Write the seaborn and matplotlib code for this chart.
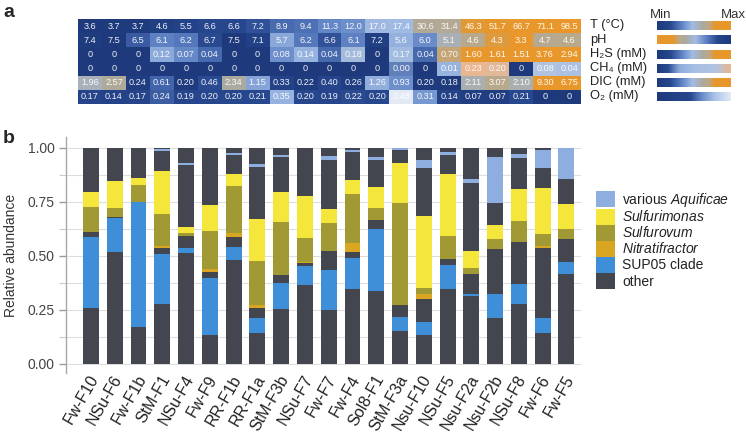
import numpy as np
import pandas as pd
import matplotlib
matplotlib.use("Agg")
import matplotlib.pyplot as plt
import matplotlib.transforms as mtransforms
import seaborn as sns
from matplotlib.colors import LinearSegmentedColormap
from matplotlib.patches import Patch
from matplotlib.ticker import FixedLocator

sns.set_style("white")
plt.rcParams["font.family"] = ["Liberation Sans", "DejaVu Sans"]
plt.rcParams["mathtext.fontset"] = "custom"
plt.rcParams["mathtext.rm"] = "Liberation Sans"
plt.rcParams["mathtext.it"] = "Liberation Sans:italic"

# ---------------- data ----------------
samples = ["Fw-F10", "NSu-F6", "Fw-F1b", "StM-F1", "NSu-F4", "Fw-F9", "RR-F1b", "RR-F1a",
           "StM-F3b", "NSu-F7", "Fw-F7", "Fw-F4", "Sol8-F1", "StM-F3a", "Nsu-F10", "NSu-F5",
           "Nsu-F2a", "Nsu-F2b", "NSu-F8", "Fw-F6", "Fw-F5"]

temp = [3.6, 3.7, 3.7, 4.6, 5.5, 6.6, 6.6, 7.2, 8.9, 9.4, 11.3, 12.0, 17.0, 17.4, 30.6, 31.4, 46.3, 51.7, 66.7, 71.1, 98.5]
ph = [7.4, 7.5, 6.5, 6.1, 6.2, 6.7, 7.5, 7.1, 5.7, 6.2, 6.6, 6.1, 7.2, 5.6, 6.0, 5.1, 4.6, 4.3, 3.3, 4.7, 4.6]
h2s = [0, 0, 0, 0.12, 0.07, 0.04, 0, 0, 0.08, 0.14, 0.04, 0.18, 0, 0.17, 0.04, 0.70, 1.60, 1.61, 1.51, 3.76, 2.94]
ch4 = [0, 0, 0, 0, 0, 0, 0, 0, 0, 0, 0, 0, 0, 0.004, 0, 0.01, 0.23, 0.20, 0, 0.08, 0.04]
dic = [1.96, 2.57, 0.24, 0.61, 0.20, 0.46, 2.34, 1.15, 0.33, 0.22, 0.40, 0.26, 1.26, 0.93, 0.20, 0.18, 2.11, 3.07, 2.10, 9.30, 6.75]
o2 = [0.17, 0.14, 0.17, 0.24, 0.19, 0.20, 0.20, 0.21, 0.35, 0.20, 0.19, 0.22, 0.20, 0.48, 0.31, 0.14, 0.07, 0.07, 0.21, 0, 0]
row_labels = ["T (°C)", "pH", "H\u2082S (mM)", "CH\u2084 (mM)", "DIC (mM)", "O\u2082 (mM)"]

# relative abundance segments, bottom -> top
other_low = [.255, .518, .168, .275, .512, .131, .478, .142, .253, .363, .250, .345, .335, .153, .131, .343, .312, .209, .277, .142, .416]
sup05 = [.331, .154, .582, .230, .021, .266, .061, .067, .119, .088, .184, .145, .286, .063, .062, .113, .011, .111, .092, .067, .054]
other_mid = [.025, .008, 0, .028, .059, .028, .047, .049, .038, .016, .087, .028, .042, .054, .107, .026, .093, .209, .195, .324, .105]
nitratifractor = [0, 0, 0, .010, 0, .012, .020, .012, 0, .005, 0, .038, 0, 0, .023, 0, 0, 0, 0, .011, 0]
sulfurovum = [.115, .039, .077, .148, .014, .177, .216, .204, .247, .108, .128, .228, .059, .475, .028, .108, .028, .046, .096, .057, .049]
sulfurimonas = [.068, .126, .031, .198, .026, .120, .054, .194, .139, .196, .068, .065, .093, .185, .332, .286, .077, .066, .147, .210, .116]
other_high = [.206, .155, .142, .096, .286, .266, .090, .242, .161, .224, .224, .128, .126, .059, .221, .090, .317, .104, .144, .093, .113]
aquificae = [0, 0, 0, .008, .008, 0, .009, .012, .009, 0, .020, .011, .013, .008, .039, .011, .018, .212, .021, .084, .144]
other_top = [0, 0, 0, .007, .074, 0, .025, .078, .034, 0, .039, .012, .046, .003, .057, .023, .144, .043, .028, .012, .003]

# ---------------- colours ----------------
NAVY = "#1e3a7c"
cm_main = LinearSegmentedColormap.from_list("main", [(0, NAVY), (0.18, "#26468e"), (0.33, "#5c80c3"),
                                                    (0.48, "#a2bce4"), (0.62, "#aca99c"), (0.70, "#bba98a"),
                                                    (0.78, "#e6972c"), (1, "#e9972b")])
cm_ch4 = LinearSegmentedColormap.from_list("ch4", [(0, NAVY), (0.15, "#2c4c93"), (0.3, "#8eabdc"),
                                                  (0.5, "#a6bfe5"), (0.8, "#b2c3df"), (1, "#eab68f")])
cm_o2 = LinearSegmentedColormap.from_list("o2", [(0, NAVY), (0.45, "#27478e"), (0.62, "#6d8fcc"),
                                                (0.78, "#a9c2e8"), (1, "#e3eaf6")])
row_cmaps = [cm_main, cm_main.reversed(), cm_main, cm_ch4, cm_main, cm_o2]
grad_cmaps = [cm_main, cm_main.reversed(), cm_main, cm_ch4, cm_main, cm_o2]

c_other = "#43464e"
c_sup05 = "#3e8fd7"
c_nitra = "#d8a620"
c_sulfurovum = "#a19a34"
c_sulfurimonas = "#f4e63a"
c_aquif = "#8eaee0"


def log_scale(v):
    v = np.log(np.asarray(v, float))
    return (v - v.min()) / (v.max() - v.min())


def log1p_scale(v, c):
    v = np.asarray(v, float)
    return np.log1p(v / c) / np.log1p(v.max() / c)


ph_a = np.asarray(ph)
row_pos = [
    log_scale(temp),
    (ph_a - ph_a.min()) / (ph_a.max() - ph_a.min()),
    log1p_scale(h2s, 0.01),
    log1p_scale(ch4, 0.002),
    log_scale(dic) ** 1.15,
    np.asarray(o2) / max(o2),
]


def fmt1(v):
    return f"{v:.1f}"


def fmt2(v):
    return "0" if v == 0 else f"{v:.2f}"


row_text = [[fmt1(v) for v in temp], [fmt1(v) for v in ph], [fmt2(v) for v in h2s],
            [fmt2(v) for v in ch4], [fmt2(v) for v in dic], [fmt2(v) for v in o2]]

# ---------------- figure ----------------
W, H = 746, 433
fig = plt.figure(figsize=(W / 100, H / 100), dpi=100)

# panel a : heatmap
ax_a = fig.add_axes([78 / W, 1 - 104 / H, 503 / W, 85 / H])
n = len(samples)
for i in range(6):
    data = np.full((6, n), np.nan)
    data[i] = row_pos[i]
    annot = np.full((6, n), "", dtype=object)
    annot[i] = row_text[i]
    sns.heatmap(pd.DataFrame(data), ax=ax_a, cmap=row_cmaps[i], vmin=0, vmax=1, cbar=False,
                mask=np.isnan(data), annot=annot, fmt="",
                annot_kws=dict(fontsize=6.6, color="white", alpha=0.92),
                xticklabels=False, yticklabels=False, linewidths=0)
ax_a.set_xlim(0, n)
ax_a.set_ylim(6, 0)
ax_a.set_xlabel("")
ax_a.set_ylabel("")
for i, lab in enumerate(row_labels):
    ax_a.text(n + 0.38, i + 0.45, lab, fontsize=9.3, color="#222222", ha="left", va="center",
              clip_on=False)

# gradient legend
ax_g = fig.add_axes([656.7 / W, 1 - 104 / H, 74 / W, 85 / H])
grad = np.linspace(0, 1, 256)[None, :]
for i in range(6):
    ax_g.imshow(grad, extent=(0, 1, i + 0.8, i + 0.2), cmap=grad_cmaps[i], aspect="auto",
                interpolation="bilinear")
ax_g.set_xlim(0, 1)
ax_g.set_ylim(6, 0)
ax_g.axis("off")
fig.text(661 / W, 1 - 15 / H, "Min", ha="center", va="center", fontsize=9.5, color="#333333")
fig.text(733 / W, 1 - 15 / H, "Max", ha="center", va="center", fontsize=9.5, color="#333333")

# panel b : stacked bars
ax_b = fig.add_axes([66 / W, 1 - 373.3 / H, 514.7 / W, 236.6 / H])
segments = [other_low, sup05, other_mid, nitratifractor, sulfurovum, sulfurimonas,
            other_high, aquificae, other_top]
seg_colors = [c_other, c_sup05, c_other, c_nitra, c_sulfurovum, c_sulfurimonas,
              c_other, c_aquif, c_other]
cum = np.cumsum(np.array(segments, float), axis=0)
for k in range(len(segments) - 1, -1, -1):
    df = pd.DataFrame({"sample": samples, "top": cum[k]})
    sns.barplot(data=df, x="sample", y="top", order=samples, color=seg_colors[k], saturation=1,
                width=0.67, edgecolor="none", linewidth=0, ax=ax_b, zorder=2)

ax_b.set_xlim(-1.05, 20.6)
ax_b.set_ylim(-0.045, 1.05)
ax_b.yaxis.set_major_locator(FixedLocator([0, 0.25, 0.5, 0.75, 1.0]))
ax_b.yaxis.set_minor_locator(FixedLocator([0.125, 0.375, 0.625, 0.875]))
ax_b.set_yticklabels(["0.00", "0.25", "0.50", "0.75", "1.00"])
ax_b.grid(True, axis="y", which="both", color="#dedede", linewidth=0.8, zorder=0)
ax_b.grid(False, axis="x")
ax_b.set_axisbelow(True)
for s in ["top", "right", "bottom"]:
    ax_b.spines[s].set_visible(False)
ax_b.spines["left"].set_color("#a8a8a8")
ax_b.spines["left"].set_linewidth(1.0)
ax_b.tick_params(axis="y", which="major", length=5, width=1, color="#9a9a9a", labelsize=10,
                 labelcolor="#444444", pad=3, left=True)
ax_b.tick_params(axis="y", which="minor", length=5, width=0.8, color="#cccccc", left=True)
ax_b.tick_params(axis="x", length=0, pad=2, labelsize=11.5, labelcolor="#222222")
ax_b.set_xticks(range(n))
ax_b.set_xticklabels(samples, rotation=60, ha="right", va="center", rotation_mode="anchor")
shift = mtransforms.ScaledTranslation(4 / 100, 0, fig.dpi_scale_trans)
for lbl in ax_b.get_xticklabels():
    lbl.set_transform(lbl.get_transform() + shift)
ax_b.set_xlabel("")
ax_b.set_ylabel("Relative abundance", fontsize=10, color="#333333")
ax_b.yaxis.set_label_coords(-(66 - 18) / 514.7, 0.5)

handles = [Patch(facecolor=c, edgecolor="none") for c in
           [c_aquif, c_sulfurimonas, c_sulfurovum, c_nitra, c_sup05, c_other]]
labels = [r"various $\it{Aquificae}$", r"$\it{Sulfurimonas}$", r"$\it{Sulfurovum}$",
          r"$\it{Nitratifractor}$", "SUP05 clade", "other"]
fig.legend(handles, labels, loc="upper left", bbox_to_anchor=(596 / W, 1 - 190.7 / H),
           frameon=False, borderpad=0, borderaxespad=0, handlelength=1.37, handleheight=1.4,
           labelspacing=0, handletextpad=0.5, fontsize=10, labelcolor="#222222")

fig.text(3 / W, 1 - 17 / H, "a", fontsize=14, fontweight="bold", va="baseline", ha="left")
fig.text(3 / W, 1 - 143 / H, "b", fontsize=14, fontweight="bold", va="baseline", ha="left")

fig.savefig("out.png", dpi=100)
